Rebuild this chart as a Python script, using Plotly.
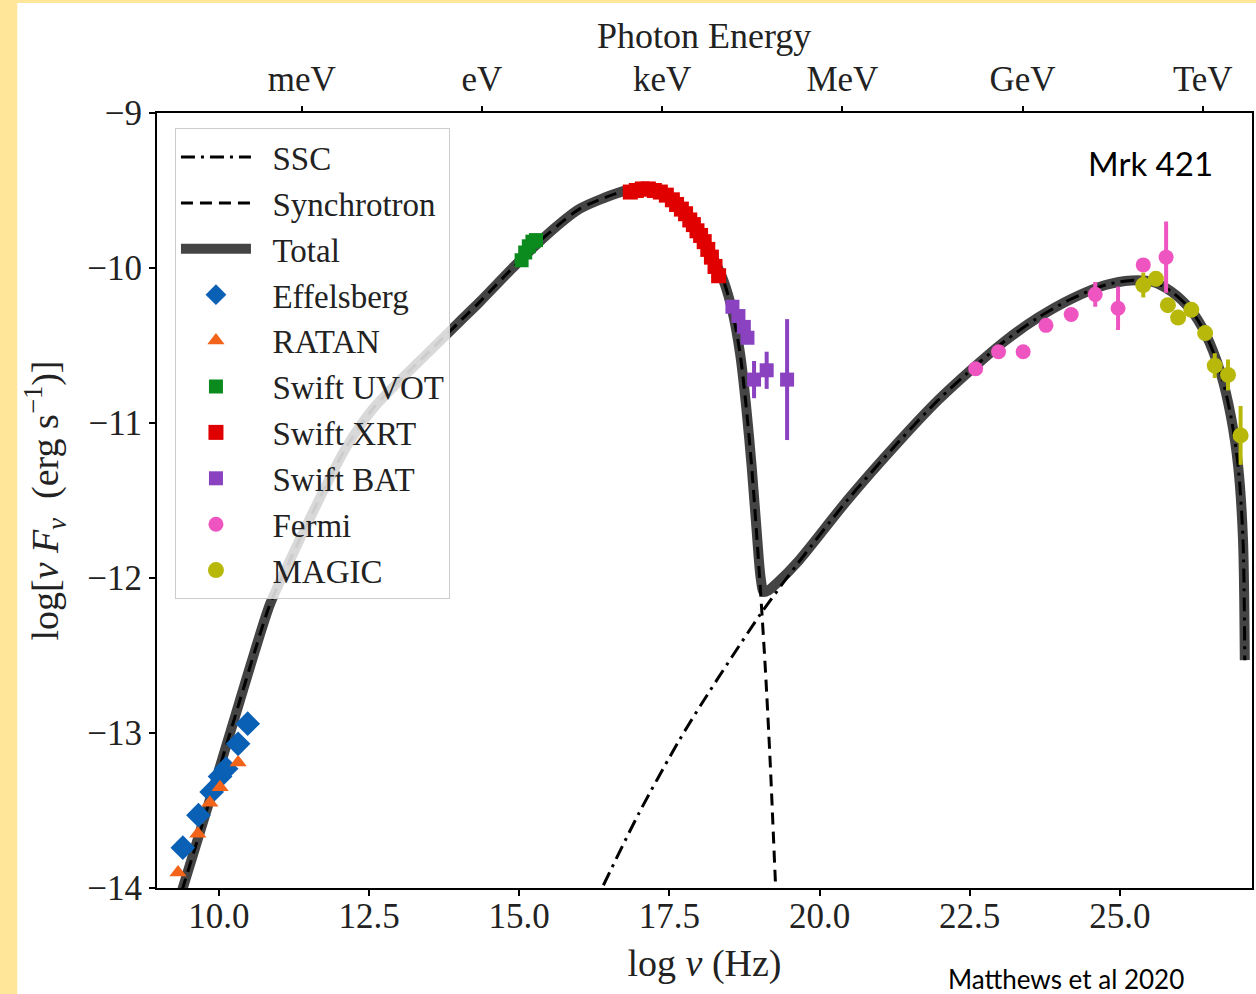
import plotly.graph_objects as go

# ---------------- data ----------------
synch_x = [9.30, 9.40, 9.70, 10.00, 10.35, 10.60, 10.85, 11.13, 11.46, 11.79, 12.13, 12.56,
           13.00, 13.50, 14.05, 14.34, 14.89, 15.45, 16.00, 16.40, 16.78, 17.16, 17.40, 17.66,
           17.90, 18.10, 18.25, 18.40, 18.55, 18.68, 18.78, 18.87, 18.95, 19.02, 19.10, 19.18,
           19.27, 19.32]
synch_y = [-14.13, -14.00, -13.62, -13.24, -12.79, -12.47, -12.17, -11.93, -11.66, -11.40, -11.15, -10.91,
           -10.73, -10.54, -10.33, -10.22, -10.00, -9.79, -9.62, -9.55, -9.50, -9.49, -9.52, -9.60,
           -9.71, -9.83, -9.95, -10.08, -10.28, -10.56, -10.90, -11.28, -11.70, -12.10, -12.60, -13.20,
           -14.00, -14.40]

ssc_x = [16.20, 16.38, 16.99, 17.66, 18.04, 18.54, 19.04, 19.65, 20.48, 21.32, 21.98, 22.60,
         23.09, 23.64, 24.19, 24.76, 25.19, 25.55, 25.85, 26.18, 26.42, 26.68, 26.85, 26.97,
         27.05, 27.08]
ssc_y = [-14.15, -14.00, -13.52, -13.05, -12.81, -12.51, -12.22, -11.90, -11.49, -11.12, -10.85, -10.63,
         -10.47, -10.32, -10.20, -10.11, -10.08, -10.09, -10.15, -10.27, -10.42, -10.68, -10.96, -11.28,
         -11.75, -12.53]

total_x = [9.30, 9.40, 9.70, 10.00, 10.35, 10.60, 10.85, 11.13, 11.46, 11.79, 12.13, 12.56,
           13.00, 13.50, 14.05, 14.34, 14.89, 15.45, 16.00, 16.40, 16.78, 17.16, 17.40, 17.66,
           17.90, 18.10, 18.25, 18.40, 18.55, 18.68, 18.78, 18.87, 18.95, 19.02, 19.07, 19.15,
           19.30, 19.65, 20.48, 21.32, 21.98, 22.60, 23.09, 23.64, 24.19, 24.76, 25.19, 25.55,
           25.85, 26.18, 26.42, 26.68, 26.85, 26.97, 27.05, 27.08]
total_y = [-14.13, -14.00, -13.62, -13.24, -12.79, -12.47, -12.17, -11.93, -11.66, -11.40, -11.15, -10.91,
           -10.73, -10.54, -10.33, -10.22, -10.00, -9.79, -9.62, -9.55, -9.50, -9.49, -9.52, -9.60,
           -9.71, -9.83, -9.95, -10.08, -10.28, -10.56, -10.90, -11.28, -11.68, -12.00, -12.09, -12.08,
           -12.03, -11.89, -11.49, -11.12, -10.85, -10.63, -10.47, -10.32, -10.20, -10.11, -10.08, -10.09,
           -10.15, -10.27, -10.42, -10.68, -10.96, -11.28, -11.75, -12.53]

effelsberg_x = [9.40, 9.66, 9.88, 10.02, 10.12, 10.32, 10.48]
effelsberg_y = [-13.74, -13.53, -13.38, -13.28, -13.23, -13.07, -12.94]

ratan_x = [9.32, 9.65, 9.85, 10.02, 10.32]
ratan_y = [-13.90, -13.65, -13.45, -13.35, -13.19]

uvot_x = [15.04, 15.10, 15.16, 15.22, 15.28]
uvot_y = [-9.95, -9.90, -9.86, -9.83, -9.82]

xrt_x = [16.85, 16.95, 17.05, 17.15, 17.25, 17.35, 17.45, 17.55, 17.62, 17.70, 17.77, 17.84,
         17.90, 17.96, 18.02, 18.08, 18.14, 18.20, 18.26, 18.32]
xrt_y = [-9.51, -9.50, -9.49, -9.49, -9.50, -9.51, -9.53, -9.56, -9.59, -9.62, -9.65, -9.69,
         -9.72, -9.76, -9.79, -9.83, -9.88, -9.93, -9.99, -10.05]

bat_x = [18.55, 18.65, 18.74, 18.80, 18.91, 19.12, 19.46]
bat_y = [-10.25, -10.31, -10.38, -10.45, -10.72, -10.66, -10.72]
bat_err = [0.04, 0.04, 0.04, 0.04, 0.12, 0.12, 0.39]

fermi_x = [22.60, 22.98, 23.39, 23.77, 24.19, 24.59, 24.97, 25.39, 25.77]
fermi_y = [-10.65, -10.54, -10.54, -10.37, -10.30, -10.17, -10.26, -9.98, -9.93]
fermi_err = [0.03, 0.03, 0.03, 0.03, 0.03, 0.08, 0.14, 0.04, 0.23]

magic_x = [25.39, 25.60, 25.80, 25.97, 26.19, 26.42, 26.58, 26.80, 27.01]
magic_y = [-10.11, -10.07, -10.24, -10.32, -10.27, -10.42, -10.63, -10.69, -11.08]
magic_err = [0.08, 0.04, 0.04, 0.04, 0.04, 0.04, 0.08, 0.10, 0.19]

x_range = [8.97, 27.20]
y_range = [-14.0, -9.0]
x_ticks = [10.0, 12.5, 15.0, 17.5, 20.0, 22.5, 25.0]
y_ticks = [-14, -13, -12, -11, -10, -9]
energy_tick_vals = [11.38, 14.38, 17.38, 20.38, 23.38, 26.38]
energy_tick_text = ["meV", "eV", "keV", "MeV", "GeV", "TeV"]

# ---------------- figure ----------------
SERIF = "Liberation Serif"
TXT = "#222222"
PAD = "\u00a0\u00a0"

fig = go.Figure()

fig.add_trace(go.Scatter(x=total_x, y=total_y, mode="lines", name=PAD + "Total",
                         line=dict(color="#444444", width=10, shape="spline", smoothing=0.8),
                         legendrank=3, legendgroup="g3"))
fig.add_trace(go.Scatter(x=synch_x, y=synch_y, mode="lines", name=PAD + "Synchrotron",
                         line=dict(color="black", width=3, dash="12px,7px", shape="spline", smoothing=0.8),
                         legendrank=2, legendgroup="g2"))
fig.add_trace(go.Scatter(x=ssc_x, y=ssc_y, mode="lines", name=PAD + "SSC",
                         line=dict(color="black", width=3, dash="14px,6px,3px,6px", shape="spline", smoothing=0.8),
                         legendrank=1, legendgroup="g1"))

def pts(x, y, name, color, symbol, size, rank, err=None):
    kw = {}
    if err is not None:
        kw["error_y"] = dict(type="data", array=err, visible=True, color=color, thickness=4, width=0)
    fig.add_trace(go.Scatter(x=x, y=y, mode="markers", name=PAD + name,
                             marker=dict(color=color, symbol=symbol, size=size, line=dict(width=0)),
                             legendrank=rank, legendgroup="g%d" % rank, **kw))

pts(effelsberg_x, effelsberg_y, "Effelsberg", "#0a60b4", "diamond", 19, 4)
pts(ratan_x, ratan_y, "RATAN", "#f26419", "triangle-up", 15, 5)
pts(uvot_x, uvot_y, "Swift UVOT", "#0b8a1e", "square", 14, 6)
pts(xrt_x, xrt_y, "Swift XRT", "#e00000", "square", 15, 7)
pts(bat_x, bat_y, "Swift BAT", "#8a42c0", "square", 14, 8, bat_err)
pts(fermi_x, fermi_y, "Fermi", "#ee55c0", "circle", 15, 9, fermi_err)
pts(magic_x, magic_y, "MAGIC", "#b8b80a", "circle", 16, 10, magic_err)

# invisible trace to activate the top (photon energy) axis
fig.add_trace(go.Scatter(x=[x_range[0]], y=[y_range[0]], xaxis="x2", mode="markers",
                         marker=dict(opacity=0), showlegend=False, hoverinfo="skip"))

fig.update_layout(
    width=1256, height=994,
    margin=dict(l=157, r=2, t=113, b=106),
    paper_bgcolor="#FFE699",
    plot_bgcolor="white",
    font=dict(family=SERIF, size=35, color=TXT),
    showlegend=True,
    legend=dict(x=0.0164, y=0.9806, xanchor="left", yanchor="top",
                bgcolor="rgba(255,255,255,0.8)", bordercolor="#cccccc", borderwidth=1,
                font=dict(family=SERIF, size=33, color=TXT), itemwidth=70,
                tracegroupgap=3, traceorder="normal"),
    xaxis=dict(range=x_range, tickvals=x_ticks, tickformat=".1f", ticks="outside", ticklen=6,
               tickwidth=1.5, tickcolor="black", showline=True, linecolor="black", linewidth=2,
               mirror=True, showgrid=False, zeroline=False, ticklabelstandoff=-10,
               title=dict(text="log <i>ν</i> (Hz)", standoff=14,
                          font=dict(family=SERIF, size=38, color=TXT))),
    xaxis2=dict(range=x_range, overlaying="x", side="top", tickvals=energy_tick_vals,
                ticktext=energy_tick_text, ticks="outside", ticklen=6, tickwidth=1.5,
                tickcolor="black", showline=False, showgrid=False, zeroline=False,
                ticklabelstandoff=1),
    yaxis=dict(range=y_range, tickvals=y_ticks, ticks="outside", ticklen=6, tickwidth=1.5,
               tickcolor="black", showline=True, linecolor="black", linewidth=2, mirror=True,
               showgrid=False, zeroline=False,
               title=dict(text="log[<i>ν F<sub>ν</sub></i>  (erg s<sup>−1</sup>)]", standoff=17,
                          font=dict(family=SERIF, size=38, color=TXT))),
    shapes=[dict(type="rect", xref="paper", yref="paper",
                 x0=(17 - 157) / 1097, x1=(1270 - 157) / 1097,
                 y0=(888 - 1010) / 775, y1=(888 - 3) / 775,
                 fillcolor="white", line=dict(width=0), layer="below")],
    annotations=[
        dict(text="Photon Energy", xref="paper", yref="paper",
             x=(705 - 157) / 1097, y=(888 - 36) / 775, xanchor="center", yanchor="middle",
             showarrow=False, font=dict(family=SERIF, size=36, color=TXT)),
        dict(text="Mrk 421", xref="paper", yref="paper", x=(1152 - 157) / 1097, y=(888 - 163) / 775,
             xanchor="center", yanchor="middle",
             showarrow=False, font=dict(family="Lato", size=33, color="black")),
        dict(text="Matthews et al 2020", xref="paper", yref="paper",
             x=(1068 - 157) / 1097, y=(888 - 979) / 775, xanchor="center", yanchor="middle",
             showarrow=False, font=dict(family="Lato", size=26, color="black")),
    ],
)

fig.write_html("out.html")
